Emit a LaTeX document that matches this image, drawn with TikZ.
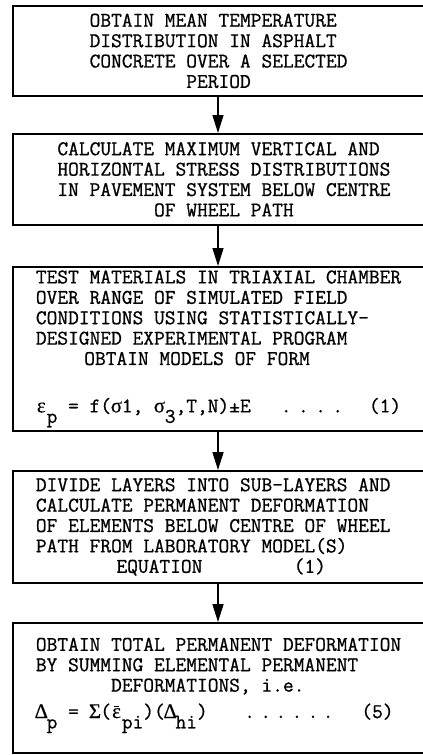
\documentclass[tikz,border=0pt]{standalone}
\usepackage{fontspec}
\newfontfamily\typer{Latin Modern Mono}[FakeBold=0.8]
\newfontfamily\greek{Liberation Serif}[FakeBold=0.5]
\usetikzlibrary{arrows.meta, positioning}

\newlength\cw
\newcommand\typewr{\typer\fontsize{20.86pt}{20.4pt}\selectfont\setlength\cw{\fontcharwd\font`\M}}
\newcommand\low[1]{\raisebox{-0.5em}{#1}}
\newcommand\col[2]{\makebox[0pt][l]{\hspace*{#1\cw}#2}}
\newcommand\gr[1]{\makebox[\cw]{\greek #1}}
\newcommand\ebar{\makebox[\cw][l]{\gr{ε}\hspace*{-\cw}\raisebox{0.55em}{\makebox[\cw]{\rule{0.45\cw}{1pt}}}}}

\tikzset{
  stepbox/.style={draw, line width=1.8pt, anchor=north west, inner xsep=23pt,
    text width=385pt, align=left, font=\typewr,
    execute at begin node={\frenchspacing\spaceskip=\cw\xspaceskip=\cw\relax}},
  flow/.style={line width=1.5pt, -{Triangle[length=18pt,width=11pt]}}
}

\begin{document}
\begin{tikzpicture}[x=1pt,y=1pt]
\path[use as bounding box, fill=white] (0,0) rectangle (423,-755);
\coordinate (axis) at (218,0);
   \node[stepbox, minimum height=90] (temp) at (12,-5) {\hspace*{5\cw}OBTAIN MEAN TEMPERATURE\\
     \hspace*{5\cw}DISTRIBUTION IN ASPHALT\\
     \hspace*{5\cw}CONCRETE OVER A SELECTED\\
     \hspace*{14\cw}PERIOD};
   \node[stepbox, minimum height=91] (stress) at (12,-133) {\hspace*{2\cw}CALCULATE MAXIMUM VERTICAL AND\\
     \hspace*{2\cw}HORIZONTAL STRESS DISTRIBUTIONS\\
     \hspace*{2\cw}IN PAVEMENT SYSTEM BELOW CENTRE\\
     \hspace*{11\cw}OF WHEEL PATH};
   \node[stepbox, minimum height=164] (triax) at (12,-266) {TEST MATERIALS IN TRIAXIAL CHAMBER\\
     OVER RANGE OF SIMULATED FIELD\\
     CONDITIONS USING STATISTICALLY-\\
     DESIGNED EXPERIMENTAL PROGRAM\\
     \hspace*{4.5\cw}OBTAIN MODELS OF FORM\\[27pt]
     \col{0}{\gr{ε}\low{p} = f(\gr{σ}1, \gr{σ}\low{3},T,N)±E}\col{22.8}{.}\col{24.4}{.}\col{26}{.}\col{27.6}{.}\col{31}{(1)}};
   \node[stepbox, minimum height=112] (sublayer) at (12,-470) {DIVIDE LAYERS INTO SUB-LAYERS AND\\
     CALCULATE PERMANENT DEFORMATION\\
     OF ELEMENTS BELOW CENTRE OF WHEEL\\
     PATH FROM LABORATORY MODEL(S)\\
     \col{7.5}{EQUATION}\col{24}{(1)}};
   \node[stepbox, minimum height=130] (total) at (12,-622) {OBTAIN TOTAL PERMANENT DEFORMATION\\
     BY SUMMING ELEMENTAL PERMANENT\\
     \hspace*{7\cw}DEFORMATIONS, i.e.\\[6pt]
     \col{0}{\gr{Δ}\low{p} = \gr{Σ}(\ebar\low{pi})(\gr{Δ}\low{hi})}\col{19.4}{.}\col{20.9}{.}\col{22.3}{.}\col{23.8}{.}\col{25.3}{.}\col{26.7}{.}\col{30.3}{(5)}\rule[-20pt]{0pt}{0pt}};
\draw[flow] (temp.south -| axis) -- (stress.north -| axis);
\draw[flow] (stress.south -| axis) -- (triax.north -| axis);
\draw[flow] (triax.south -| axis) -- (sublayer.north -| axis);
\draw[flow] (sublayer.south -| axis) -- (total.north -| axis);
\end{tikzpicture}
\end{document}
